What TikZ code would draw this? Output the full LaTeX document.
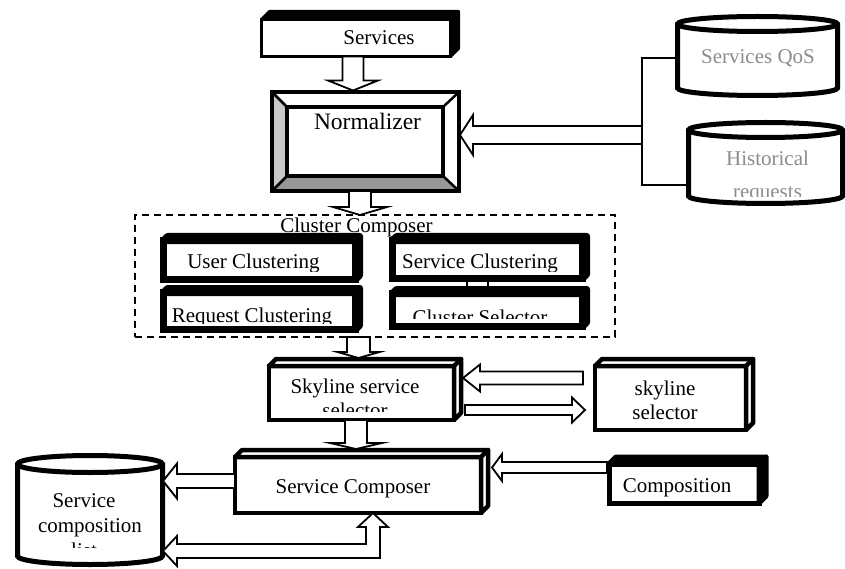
\documentclass[tikz,border=0pt]{standalone}
\usepackage{fontspec}
\setmainfont{Liberation Serif}
\usetikzlibrary{calc}

\definecolor{dbtext}{RGB}{140,140,140}
\definecolor{bevlight}{RGB}{200,200,200}
\definecolor{bevdark}{RGB}{150,150,150}

\tikzset{
  txt/.style={font=\fontsize{21}{24}\selectfont, anchor=base, inner sep=0pt},
  front/.style={draw, fill=white, rectangle, inner sep=0pt, outer sep=0pt},
  heavy/.style={front, line width=7pt},
  light/.style={front, line width=4.5pt},
  barrow/.style={draw, fill=white, line width=1.8pt, line join=miter},
  dbbox/.style={rectangle, inner sep=0pt, outer sep=0pt},
  linkline/.style={line width=2pt},
}

% hollow block arrow from #1 to #2: shaft half width, head half width, head length
\newcommand\blockarr[5]{%
  \coordinate (ba) at ($(#2)!#5!(#1)$);
  \draw[barrow] ($(#1)!#3!90:(#2)$) -- ($(ba)!#3!90:(#2)$) -- ($(ba)!#4!90:(#2)$)
    -- (#2) -- ($(ba)!#4!-90:(#2)$) -- ($(ba)!#3!-90:(#2)$) -- ($(#1)!#3!-90:(#2)$) -- cycle;
}

% top and right faces of a box drawn as a cube
\newcommand\cubedepth[4]{%
  \filldraw[fill=#3, line width=#4, line join=round] (#1.north west) -- ++(#2,-#2)
    -- ($(#1.north east)+(#2,-#2)$) -- ($(#1.south east)+(#2,-#2)$)
    -- (#1.south east) -- (#1.north east) -- cycle;
  \draw[line width=#4, line cap=round] (#1.north east) -- ++(#2,-#2);
}

% database cylinder around a rectangle node
\newcommand\dbcyl[4]{%
  \filldraw[fill=white, line width=#4] (#1.north west) -- (#1.south west)
    arc[start angle=180, end angle=360, x radius=#2, y radius=#3]
    -- (#1.north east)
    arc[start angle=0, end angle=180, x radius=#2, y radius=#3] -- cycle;
  \draw[line width=#4] (#1.north west)
    arc[start angle=180, end angle=360, x radius=#2, y radius=#3];
}

\begin{document}
\begin{tikzpicture}[x=1pt, y=-1pt]
\useasboundingbox (0,0) rectangle (845,569);

% ---------- Services ----------
\node[front, line width=3pt, minimum width=189pt, minimum height=37pt] (svc) at (356,38) {};
\cubedepth{svc}{8}{black}{3pt}
\node[txt] (svct) at (379,45) {Services};

% ---------- Normalizer (bevel frame) ----------
\node[front, line width=4pt, minimum width=187pt, minimum height=99pt] (norm) at (365.5,141.5) {};
\node[front, line width=4pt, minimum width=156pt, minimum height=69pt] (normin) at (365,141.5) {};
\fill[bevlight] (norm.north west) -- (normin.north west) -- (normin.south west) -- (norm.south west) -- cycle;
\fill[bevdark] (norm.south west) -- (normin.south west) -- (normin.south east) -- (norm.south east) -- cycle;
\draw[line width=4pt] (norm.north west) rectangle (norm.south east);
\draw[line width=4pt] (normin.north west) rectangle (normin.south east);
\draw[line width=2.5pt] (norm.north west) -- (normin.north west)
  (norm.north east) -- (normin.north east)
  (norm.south west) -- (normin.south west)
  (norm.south east) -- (normin.south east);
\node[txt, font=\fontsize{23.5}{27}\selectfont] (normt) at (367.5,130) {Normalizer};

% ---------- databases ----------
\node[dbbox, minimum width=160pt, minimum height=64pt] (qos) at (757.5,56) {};
\dbcyl{qos}{80pt}{7.5pt}{5pt}
\node[txt, text=dbtext] (qost) at (758,64) {Services QoS};

\node[dbbox, minimum width=154pt, minimum height=66pt] (hist) at (765.5,163) {};
\dbcyl{hist}{77pt}{7.5pt}{5pt}
\node[txt, text=dbtext] (histt) at (767.5,166) {Historical};
\begin{scope}
  \clip (690,170) rectangle (842,196.5);
  \node[txt, text=dbtext] (histr) at (767.5,199) {requests};
\end{scope}

\node[dbbox, minimum width=145pt, minimum height=92pt] (dbl) at (90,510) {};
\dbcyl{dbl}{72.5pt}{8.5pt}{5pt}
\node[txt] (dblt1) at (84,507) {Service};
\node[txt] (dblt2) at (90,532) {composition};
\begin{scope}
  \clip (20,536) rectangle (160,547);
  \node[txt] (dblt3) at (84,557) {list};
\end{scope}

% bracket joining the two databases
\coordinate (brk) at (642,135);
\draw[linkline] ($(qos.west)+(0,2)$) -| (brk) |- ($(hist.west)+(2,22)$);
\coordinate (b5) at ($(norm.east)+(1,-6.5)$);
\blockarr{brk}{b5}{9pt}{20pt}{13pt}

% ---------- Cluster Composer ----------
\node[front, fill=none, line width=2pt, dash pattern=on 7pt off 5pt,
      minimum width=480pt, minimum height=122pt] (cc) at (375,276) {};
\node[txt] (cct) at (356.5,233) {Cluster Composer};

\node[heavy, minimum width=192pt, minimum height=39pt] (ucl) at (259.5,260) {};
\cubedepth{ucl}{4}{black}{7pt}
\node[heavy, minimum width=190pt, minimum height=38pt] (scl) at (487.5,259.5) {};
\cubedepth{scl}{4}{black}{7pt}
\node[heavy, minimum width=192pt, minimum height=37pt] (rcl) at (259.5,311) {};
\cubedepth{rcl}{4}{black}{7pt}
\node[heavy, minimum width=190pt, minimum height=33pt] (csel) at (487.5,310) {};
\cubedepth{csel}{4}{black}{7pt}

\begin{scope}
  \clip (167,240) rectangle (352,271);
  \node[txt] (uclt) at (253.5,269) {User Clustering};
\end{scope}
\begin{scope}
  \clip (396,240) rectangle (579,271);
  \node[txt] (sclt) at (480,269) {Service Clustering};
\end{scope}
\begin{scope}
  \clip (167,292) rectangle (352,323.5);
  \node[txt] (rclt) at (252,322) {Request Clustering};
\end{scope}
\begin{scope}
  \clip (396,293) rectangle (579,318);
  \node[txt] (cselt) at (480,324) {Cluster Selector};
\end{scope}

% short link between Service Clustering and Cluster Selector
\draw[line width=1.5pt] ($(scl.south)+(-20.5,0)$) -- ($(csel.north)+(-20.5,-4)$)
  ($(scl.south)+(0.5,0)$) -- ($(csel.north)+(0.5,-4)$);

% ---------- Skyline stage ----------
\node[light, minimum width=185pt, minimum height=54pt] (sky) at (361.5,393) {};
\cubedepth{sky}{7}{white}{4.5pt}
\node[txt] (skyt) at (355,393) {Skyline service};
\begin{scope}
  \clip (272,400) rectangle (450,411);
  \node[txt] (skyt2) at (355,417) {selector};
\end{scope}

\node[light, minimum width=151pt, minimum height=64pt] (ssel) at (670.5,398) {};
\cubedepth{ssel}{7}{white}{4.5pt}
\node[txt] (sselt1) at (665,395) {skyline};
\node[txt] (sselt2) at (665,419) {selector};

% ---------- Service Composer ----------
\node[light, minimum width=246pt, minimum height=56pt] (comp) at (358,485) {};
\cubedepth{comp}{7}{white}{4.5pt}
\node[txt] (compt) at (353,493) {Service Composer};

\node[front, line width=5pt, minimum width=150pt, minimum height=39pt] (compo) at (684,483.5) {};
\cubedepth{compo}{7}{black}{5pt}
\node[txt] (compot) at (677,492) {Composition};

% ---------- block arrows ----------
\coordinate (a1) at ($(svc.south)+(-3,0)$);
\coordinate (b1) at ($(norm.north)+(-12.5,-1.5)$);
\blockarr{a1}{b1}{10.5pt}{25pt}{10pt}

\coordinate (a2) at ($(norm.south)+(-5.5,0)$);
\coordinate (b2) at ($(cc.north)+(-15,0)$);
\blockarr{a2}{b2}{11pt}{27pt}{8pt}

\coordinate (a3) at ($(cc.south)+(-16.5,0)$);
\coordinate (b3) at ($(sky.north)+(-3,-8)$);
\blockarr{a3}{b3}{11.5pt}{21pt}{6pt}

\coordinate (a4) at ($(sky.south)+(-5.5,0)$);
\coordinate (b4) at ($(comp.north)+(-2,-8)$);
\blockarr{a4}{b4}{11pt}{26pt}{6pt}

\coordinate (a6) at ($(ssel.west)+(-12,-20)$);
\coordinate (b6) at ($(sky.east)+(9,-15)$);
\blockarr{a6}{b6}{6.5pt}{13.5pt}{17pt}

\coordinate (a7) at ($(sky.east)+(11,17)$);
\coordinate (b7) at ($(ssel.west)+(-10,12)$);
\blockarr{a7}{b7}{5pt}{12.5pt}{13pt}

\coordinate (a8) at ($(compo.west)+(-2,-16)$);
\coordinate (b8) at ($(comp.east)+(11,-17.5)$);
\blockarr{a8}{b8}{5.5pt}{13.5pt}{10pt}

\coordinate (a9) at ($(comp.west)+(0,-4)$);
\coordinate (b9) at ($(dbl.east)+(0.5,-29)$);
\blockarr{a9}{b9}{7pt}{17.5pt}{14pt}

% bent two-headed arrow between Service Composer and the list store
\coordinate (bt) at ($(comp.south)+(15,0)$);
\coordinate (bl) at ($(dbl.east)+(0.5,41)$);
\coordinate (bc) at (bt |- bl);
\draw[barrow] (bt) -- ($(bt)+(15,14)$) -- ($(bt)+(7,14)$) -- ($(bc)+(7,7)$)
  -- ($(bl)+(14,7)$) -- ($(bl)+(14,15)$) -- (bl) -- ($(bl)+(14,-15)$)
  -- ($(bl)+(14,-7)$) -- ($(bc)+(-7,-7)$) -- ($(bt)+(-7,14)$) -- ($(bt)+(-15,14)$) -- cycle;

\end{tikzpicture}
\end{document}
